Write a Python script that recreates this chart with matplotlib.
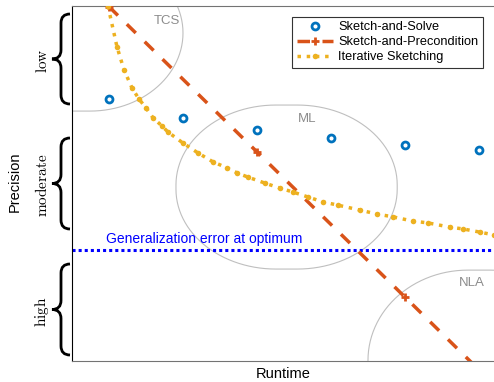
import numpy as np
import matplotlib
matplotlib.use('Agg')
import matplotlib.pyplot as plt
from matplotlib.path import Path
from matplotlib.patches import PathPatch

plt.rcParams['font.family'] = ['Liberation Sans', 'DejaVu Sans']
plt.rcParams['mathtext.fontset'] = 'cm'

# data (x: runtime units, y: 0 = high precision, 1 = low precision)
solve_x = [0.5, 1.5, 2.5, 3.5, 4.5, 5.5]
solve_y = [0.738, 0.685, 0.651, 0.628, 0.608, 0.594]

precond_x = [0.5, 2.5, 4.5, 5.5]
precond_y = [0.998, 0.589, 0.180, -0.025]

iter_x = [0.486, 0.608, 0.703, 0.811, 0.905, 1.000, 1.095, 1.216, 1.297, 1.500,
          1.703, 1.905, 2.095, 2.230, 2.378, 2.608, 2.811, 2.986, 3.189, 3.392,
          3.595, 3.892, 4.122, 4.338, 4.608, 4.811, 5.108, 5.284, 5.514, 5.703]
iter_y = [1.000, 0.885, 0.820, 0.769, 0.738, 0.713, 0.685, 0.662, 0.645, 0.614,
          0.586, 0.561, 0.544, 0.530, 0.518, 0.501, 0.487, 0.476, 0.462, 0.448,
          0.439, 0.425, 0.414, 0.406, 0.394, 0.389, 0.377, 0.372, 0.363, 0.355]

gen_err = 0.313

# regions: name -> (x, y, w, h, rx, ry, label_x, label_y)
regions = {
    'TCS': (-1.5, 0.704, 3.0, 0.44, 1.257, 0.22, 1.28, 0.958),
    'ML':  (1.405, 0.259, 2.99, 0.462, 1.35, 0.225, 3.18, 0.682),
    'NLA': (4.0, -0.3, 3.0, 0.556, 1.35, 0.254, 5.4, 0.22),
}

blue = (0, 0.447, 0.741)
orange = (0.85, 0.325, 0.098)
yellow = (0.929, 0.694, 0.125)

W, H = 494, 382
fig = plt.figure(figsize=(W / 100, H / 100), dpi=100)
ax = fig.add_axes([72 / W, 1 - 361 / H, 422 / W, 355 / H])


def rounded_box(ax, x, y, w, h, rx, ry, **kw):
    t = np.linspace(0, np.pi / 2, 30)
    pts = []
    corners = [((x + w - rx, y + h - ry), 0), ((x + rx, y + h - ry), np.pi / 2),
               ((x + rx, y + ry), np.pi), ((x + w - rx, y + ry), 1.5 * np.pi)]
    for (cx, cy), a0 in corners:
        a = a0 + t
        pts += list(zip(cx + rx * np.cos(a), cy + ry * np.sin(a)))
    pts.append(pts[0])
    ax.add_patch(PathPatch(Path(pts), fill=False, **kw))


for name, (x, y, w, h, rx, ry, lx, ly) in regions.items():
    rounded_box(ax, x, y, w, h, rx, ry, edgecolor='0.75', lw=0.8, zorder=1)
    ax.text(lx, ly, name, color='0.55', fontsize=9.5, ha='center', va='center')

ax.plot(solve_x, solve_y, 'o', color=blue, mfc='white', ms=5, mew=2,
        ls='none', label='Sketch-and-Solve', zorder=4)
ax.plot(precond_x, precond_y, color=orange, lw=2.5, dashes=(3.6, 3.6),
        marker='+', ms=6, mew=2, label='Sketch-and-Precondition', zorder=3)
ax.plot(iter_x, iter_y, color=yellow, lw=2.5, ls=':', marker='o', ms=4,
        mew=0, label='Iterative Sketching', zorder=3)

ax.axhline(gen_err, color='blue', lw=2.2, dashes=(1, 1), zorder=2)
ax.text(0.46, gen_err + 0.012, 'Generalization error at optimum', color='blue',
        fontsize=10, va='bottom')

ax.set_xlim(0, 5.703)
ax.set_ylim(0, 1)
ax.set_xticks([])
ax.set_yticks([])
ax.spines['right'].set_visible(False)
ax.spines['left'].set_color('black')
ax.spines['top'].set_color('0.45')
ax.spines['bottom'].set_color('0.45')

leg = ax.legend(loc='upper right', bbox_to_anchor=(0.974, 0.969), fontsize=9.2,
                handlelength=2.8, borderaxespad=0, fancybox=False,
                framealpha=1, edgecolor='0.2', borderpad=0.35,
                labelspacing=0.22, handletextpad=0.45)
leg.get_frame().set_linewidth(0.8)


def px(x, y):
    return x / W, 1 - y / H


def brace(top, bottom, x_arm=70, x_tip=52):
    mid = (top + bottom) / 2
    xm = (x_arm + x_tip) / 2
    r = 9
    verts = [px(x_arm, top), px(xm, top), px(xm, top + r),
             px(xm, mid - r), px(xm, mid), px(x_tip, mid),
             px(xm, mid), px(xm, mid + r),
             px(xm, bottom - r), px(xm, bottom), px(x_arm, bottom)]
    codes = [Path.MOVETO, Path.CURVE3, Path.CURVE3,
             Path.LINETO, Path.CURVE3, Path.CURVE3,
             Path.CURVE3, Path.CURVE3,
             Path.LINETO, Path.CURVE3, Path.CURVE3]
    fig.add_artist(PathPatch(Path(verts, codes), fill=False, lw=2,
                             edgecolor='black', transform=fig.transFigure))


levels = ['low', 'moderate', 'high']
brace_spans = [(14, 104), (138, 229), (264, 355)]
for lab, (t0, b0) in zip(levels, brace_spans):
    brace(t0, b0)
    fig.text(*px(42, (t0 + b0) / 2 + 2), r'$\mathrm{%s}$' % lab, rotation=90,
             ha='center', va='center', fontsize=11)

fig.text(*px(15, 182), 'Precision', rotation=90, ha='center', va='center',
         fontsize=10.5)
fig.text(*px(283, 374), 'Runtime', ha='center', va='center', fontsize=10.5)

fig.savefig('out.png', dpi=100)
